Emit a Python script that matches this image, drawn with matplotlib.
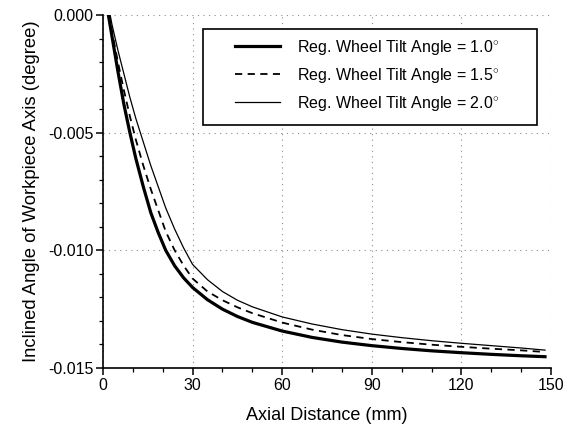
import matplotlib
matplotlib.use("Agg")
import matplotlib.pyplot as plt
from matplotlib.patches import Rectangle
from matplotlib.ticker import MultipleLocator, FormatStrFormatter

plt.rcParams['font.family'] = ['Liberation Sans', 'DejaVu Sans']
plt.rcParams['mathtext.fontset'] = 'custom'
plt.rcParams['mathtext.rm'] = 'Liberation Sans'
plt.rcParams['axes.unicode_minus'] = False

# Data
x_10 = [1.8, 3, 5, 7, 9, 11, 13.5, 16, 18.5, 21, 24, 27, 30, 35, 40, 45, 50,
        60, 70, 80, 90, 100, 110, 120, 130, 140, 148]
y_10 = [0, -0.0009, -0.0024, -0.0038, -0.0050, -0.0061, -0.0073, -0.0084,
        -0.00925, -0.0100, -0.01066, -0.01117, -0.01158, -0.0121, -0.0125,
        -0.01281, -0.01306, -0.01343, -0.0137, -0.0139, -0.01405, -0.01417,
        -0.01427, -0.01435, -0.01442, -0.01448, -0.01452]
x_15 = [2.0, 3, 5, 7, 9, 11, 13.5, 16, 18.5, 21, 24, 27, 30, 35, 40, 45, 50,
        60, 70, 80, 90, 100, 110, 120, 130, 140, 148]
y_15 = [0, -0.0007, -0.0020, -0.0032, -0.0043, -0.0053, -0.0064, -0.0074,
        -0.0083, -0.0092, -0.0100, -0.01065, -0.0112, -0.01175, -0.01212,
        -0.01242, -0.01267, -0.01307, -0.01337, -0.0136, -0.01377, -0.0139,
        -0.01401, -0.0141, -0.01418, -0.01425, -0.01432]
x_20 = [2.4, 3, 5, 7, 9, 11, 13.5, 16, 18.5, 21, 24, 27, 30, 35, 40, 45, 50,
        60, 70, 80, 90, 100, 110, 120, 130, 140, 148]
y_20 = [0, -0.0004, -0.0015, -0.0025, -0.0035, -0.0044, -0.0054, -0.0064,
        -0.0073, -0.0082, -0.0091, -0.0099, -0.0106, -0.01125, -0.01175,
        -0.01212, -0.0124, -0.01283, -0.01313, -0.01337, -0.01356, -0.01371,
        -0.01384, -0.01395, -0.01405, -0.01415, -0.01424]
labels = [r'Reg. Wheel Tilt Angle = 1.0$^{\circ}$',
          r'Reg. Wheel Tilt Angle = 1.5$^{\circ}$',
          r'Reg. Wheel Tilt Angle = 2.0$^{\circ}$']
x_ticks = [0, 30, 60, 90, 120, 150]
y_ticks = [0.000, -0.005, -0.010, -0.015]

W, H = 572, 428
fig = plt.figure(figsize=(W / 100, H / 100), dpi=100)
ax = fig.add_axes([103 / W, 1 - 368 / H, (551 - 103) / W, (368 - 15) / H])

ax.plot(x_10, y_10, color='black', lw=2.3, label=labels[0])
ax.plot(x_15, y_15, color='black', lw=1.3, linestyle=(0, (4, 3)), label=labels[1])
ax.plot(x_20, y_20, color='black', lw=0.9, label=labels[2])

ax.set_xlim(0, 150)
ax.set_ylim(-0.015, 0.0)
ax.set_xticks(x_ticks)
ax.set_yticks(y_ticks)
ax.xaxis.set_minor_locator(MultipleLocator(10))
ax.yaxis.set_minor_locator(MultipleLocator(0.001))
ax.yaxis.set_major_formatter(FormatStrFormatter('%.3f'))

for s in ['top', 'right']:
    ax.spines[s].set_visible(False)
for s in ['left', 'bottom']:
    ax.spines[s].set_linewidth(1.2)

ax.tick_params(which='major', direction='out', length=5, width=1.1, labelsize=11.5, pad=2)
ax.tick_params(which='minor', direction='out', length=3, width=0.9)

ax.grid(True, which='major', color='0.55', linestyle=(0, (1, 4)), lw=0.8)

ax.set_xlabel('Axial Distance (mm)', fontsize=13, labelpad=10)
ax.set_ylabel('Inclined Angle of Workpiece Axis (degree)', fontsize=13.3, labelpad=6)

ax.add_patch(Rectangle((203 / W, 1 - 125 / H), (537 - 203) / W, (125 - 29) / H,
                       transform=fig.transFigure, fill=True, facecolor='white',
                       edgecolor='black', lw=1.2, zorder=4, clip_on=False))
leg = ax.legend(loc='upper left', bbox_to_anchor=(235 / W, 1 - 38 / H),
                bbox_transform=fig.transFigure, frameon=False, fontsize=11.5,
                borderpad=0, handlelength=2.8, handletextpad=1.1,
                labelspacing=0.55, borderaxespad=0)
leg.set_zorder(6)

fig.savefig('out.png', dpi=100)
